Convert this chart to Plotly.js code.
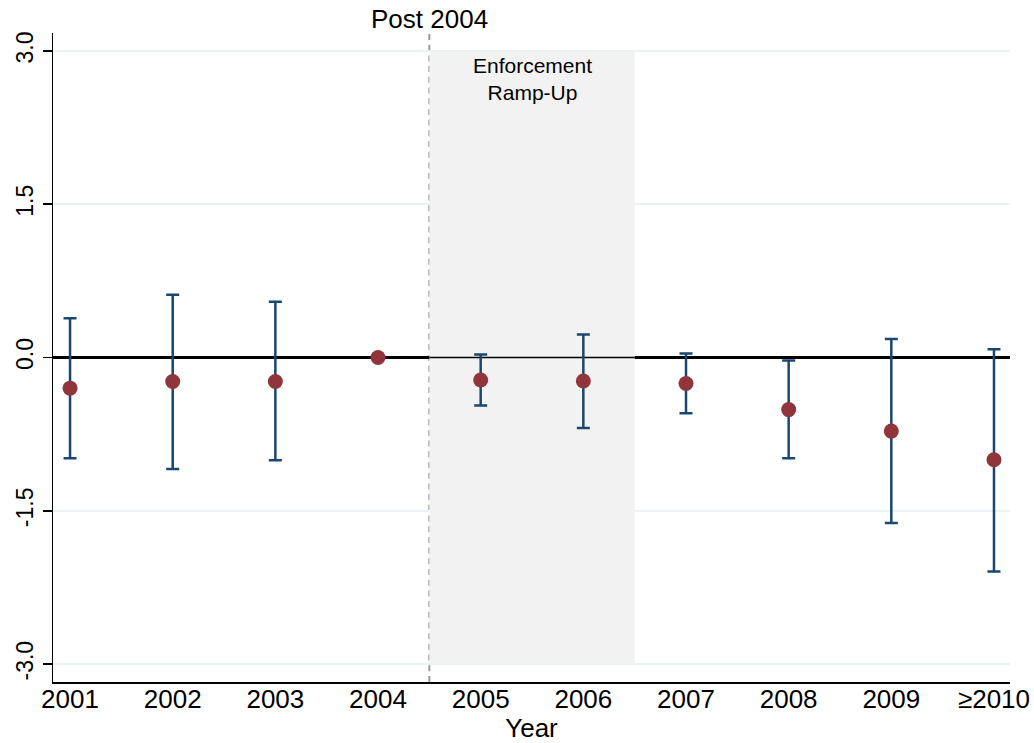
<!DOCTYPE html>
<html>
<head>
<meta charset="utf-8">
<script src="https://cdn.plot.ly/plotly-3.0.1.min.js"></script>
<style>html,body{margin:0;padding:0;background:#fff;}#chart{width:1034px;height:743px;}</style>
</head>
<body>
<div id="chart"></div>
<script>
const categories = ["2001","2002","2003","2004","2005","2006","2007","2008","2009","≥2010"];
const estimates  = [-0.30, -0.235, -0.235, 0.0, -0.22, -0.23, -0.255, -0.51, -0.72, -1.00];
const upperCI    = [0.385, 0.615, 0.545, 0.0, 0.03, 0.225, 0.04, -0.03, 0.18, 0.08];
const lowerCI    = [-0.985, -1.09, -1.005, 0.0, -0.47, -0.69, -0.545, -0.985, -1.62, -2.095];
const yTicks = [-3, -1.5, 0, 1.5, 3];
const yTickLabels = ["-3.0", "-1.5", "0.0", "1.5", "3.0"];

const hasCI = estimates.map((e,i) => upperCI[i] !== lowerCI[i]);
const errPlus  = estimates.map((e,i) => upperCI[i] - e);
const errMinus = estimates.map((e,i) => e - lowerCI[i]);

const font = "Liberation Sans, Arial, sans-serif";
const xr = [-0.166, 9.156];

const traces = [
  {
    type: "scatter", mode: "markers",
    x: categories.filter((c,i)=>hasCI[i]),
    y: estimates.filter((c,i)=>hasCI[i]),
    marker: {size: 0.1, color: "rgba(0,0,0,0)"},
    error_y: {type: "data", symmetric: false,
      array: errPlus.filter((c,i)=>hasCI[i]),
      arrayminus: errMinus.filter((c,i)=>hasCI[i]),
      color: "#1a476f", thickness: 2.5, width: 6.5},
    hoverinfo: "skip", showlegend: false
  },
  {
    type: "scatter", mode: "markers",
    x: categories, y: estimates,
    marker: {size: 15, color: "#90353b"},
    showlegend: false
  }
];

const layout = {
  width: 1034, height: 743,
  margin: {l: 53, r: 24, t: 33, b: 61},
  paper_bgcolor: "#ffffff", plot_bgcolor: "#ffffff",
  font: {family: font, color: "#000"},
  showlegend: false,
  xaxis: {
    type: "category", categoryorder: "array", categoryarray: categories,
    range: xr,
    showgrid: false, zeroline: false,
    showline: true, linecolor: "#000", linewidth: 1.5,
    ticks: "", tickfont: {size: 26, family: font},
    ticklabelstandoff: -7,
    title: {text: "Year", font: {size: 26, family: font}, standoff: 0},
    automargin: false
  },
  yaxis: {
    range: [-3.175, 3.175],
    tickvals: yTicks, ticktext: yTickLabels,
    tickangle: -90,
    tickfont: {size: 23, family: font},
    ticks: "outside", ticklen: 9, tickcolor: "#000", tickwidth: 1.5,
    showline: true, linecolor: "#000", linewidth: 1.5,
    showgrid: true, gridcolor: "#eaf2f3", gridwidth: 1.5,
    zeroline: true, zerolinecolor: "#000", zerolinewidth: 2.5,
    automargin: false
  },
  shapes: [
    {type: "rect", xref: "x", yref: "y", x0: 3.5, x1: 5.5, y0: -3, y1: 3,
     fillcolor: "#f2f2f2", line: {width: 0}, layer: "between"},
    {type: "line", xref: "x", yref: "y", x0: 3.5, x1: 5.5, y0: 0, y1: 0,
     line: {color: "#000", width: 1.6}, layer: "between"},
    {type: "line", xref: "x", yref: "paper", x0: 3.5, x1: 3.5, y0: 0, y1: 1,
     line: {color: "#9a9a9a", width: 2, dash: "6px,4.7px"}, layer: "between"}
  ],
  annotations: [
    {xref: "x", yref: "paper", x: 3.5, y: 1, yanchor: "bottom", xanchor: "center",
     text: "Post 2004", showarrow: false, font: {size: 26, family: font}, yshift: -3},
    {xref: "x", yref: "y", x: 4.5, y: 3, yanchor: "top", xanchor: "center",
     text: "Enforcement<br>Ramp-Up", showarrow: false, font: {size: 21, family: font}, yshift: -1}
  ]
};

Plotly.newPlot("chart", traces, layout, {staticPlot: true, displayModeBar: false});
</script>
</body>
</html>
